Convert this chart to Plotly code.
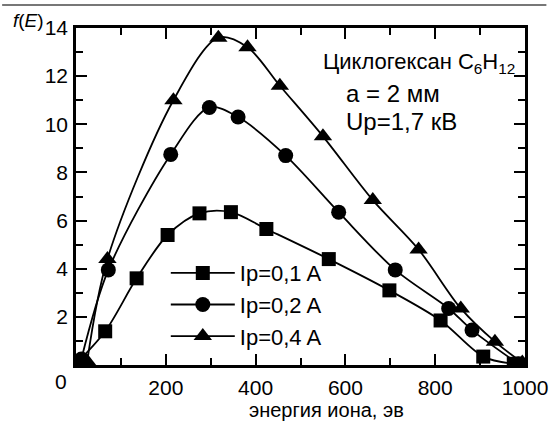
import plotly.graph_objects as go

# Data
E_01 = [0, 65, 135, 204, 275, 345, 424, 563, 698, 812, 907, 975]
f_01 = [0.05, 1.4, 3.6, 5.4, 6.3, 6.35, 5.65, 4.4, 3.1, 1.85, 0.35, 0.05]

E_02 = [12, 72, 211, 297, 361, 467, 585, 711, 830, 882, 985]
f_02 = [0.25, 3.95, 8.75, 10.7, 10.3, 8.7, 6.35, 3.95, 2.35, 1.45, 0.05]

E_04 = [25, 70, 217, 317, 382, 454, 550, 661, 763, 857, 933, 994]
f_04 = [0.15, 4.4, 11.0, 13.6, 13.2, 11.6, 9.5, 6.85, 4.8, 2.35, 0.97, 0.1]

series_names = ["Ip=0,1 A", "Ip=0,2 A", "Ip=0,4 A"]
x_ticks = [200, 400, 600, 800, 1000]
y_ticks = [2, 4, 6, 8, 10, 12, 14]

FONT = "Liberation Sans, Arial, sans-serif"

fig = go.Figure()
for E, f, name, sym, size in [
    (E_01, f_01, series_names[0], "square", 14),
    (E_02, f_02, series_names[1], "circle", 15),
    (E_04, f_04, series_names[2], "triangle-up", 16),
]:
    fig.add_trace(go.Scatter(
        x=E, y=f, name=name, mode="lines+markers",
        line=dict(color="black", width=1.8, shape="spline", smoothing=0.9),
        marker=dict(symbol=sym, size=size, color="black"),
    ))

axis_common = dict(
    showline=True, linewidth=2.5, linecolor="black", mirror="ticks",
    ticks="inside", tickwidth=2, ticklen=11, tickcolor="black",
    showgrid=False, zeroline=False,
    tickfont=dict(family=FONT, size=21, color="black"),
    ticklabeloverflow="allow",
)

fig.update_xaxes(
    range=[0, 1000], tickmode="array", tickvals=x_ticks,
    minor=dict(ticks="inside", ticklen=7, tickwidth=2, tickcolor="black", dtick=100, tick0=0, showgrid=False),
    ticklabelstandoff=2,
    **axis_common,
)
fig.update_yaxes(
    range=[0, 14], tickmode="array", tickvals=y_ticks,
    minor=dict(ticks="inside", ticklen=7, tickwidth=2, tickcolor="black", dtick=1, tick0=0, showgrid=False),
    ticklabelstandoff=1,
    **axis_common,
)

fig.update_layout(
    width=560, height=421,
    margin=dict(l=76, r=22, t=28, b=56),
    paper_bgcolor="white", plot_bgcolor="white",
    font=dict(family=FONT, color="black"),
    showlegend=True,
    legend=dict(
        x=0.2, y=0.335, xanchor="left", yanchor="top",
        bgcolor="rgba(0,0,0,0)", borderwidth=0,
        font=dict(family=FONT, size=22, color="black"),
        itemwidth=64, tracegroupgap=0,
    ),
    annotations=[
        dict(text="<i>f</i>(<i>E</i>)", xref="paper", yref="paper",
             x=(9 - 76) / 462, y=(365 - 20) / 337, xanchor="left", yanchor="middle",
             showarrow=False, font=dict(family=FONT, size=19)),
        dict(text="0", xref="paper", yref="paper",
             x=(61 - 76) / 462, y=(365 - 381) / 337, xanchor="center", yanchor="middle",
             showarrow=False, font=dict(family=FONT, size=21)),
        dict(text="энергия иона, эв", xref="paper", yref="paper",
             x=(334 - 76) / 462, y=(365 - 410) / 337, xanchor="center", yanchor="middle",
             showarrow=False, font=dict(family=FONT, size=20)),
        dict(text="Циклогексан C<sub>6</sub>H<sub>12</sub>", xref="paper", yref="paper",
             x=(328 - 76) / 462, y=(365 - 63) / 337, xanchor="left", yanchor="middle",
             showarrow=False, font=dict(family=FONT, size=22)),
        dict(text="a = 2 мм", xref="paper", yref="paper",
             x=(352 - 76) / 462, y=(365 - 93) / 337, xanchor="left", yanchor="middle",
             showarrow=False, font=dict(family=FONT, size=24)),
        dict(text="Up=1,7 кВ", xref="paper", yref="paper",
             x=(352 - 76) / 462, y=(365 - 122) / 337, xanchor="left", yanchor="middle",
             showarrow=False, font=dict(family=FONT, size=24)),
    ],
    shapes=[
        dict(type="line", xref="paper", yref="paper",
             x0=-76 / 462, x1=(560 - 76) / 462, y0=(365 - 5) / 337, y1=(365 - 5) / 337,
             line=dict(color="#777777", width=2)),
    ],
)

fig.write_html("out.html")
